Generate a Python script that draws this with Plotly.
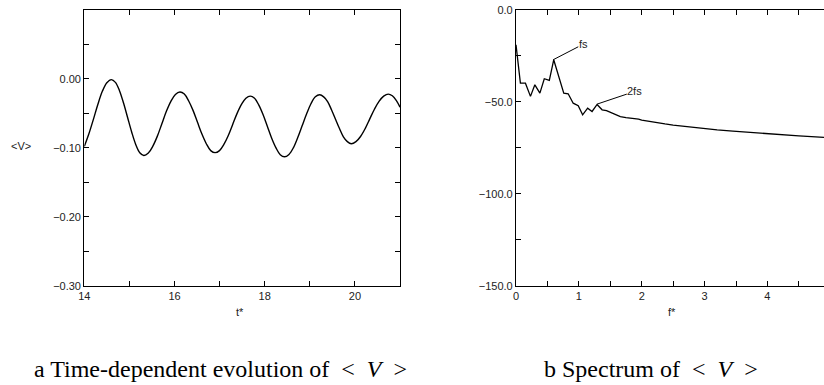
import plotly.graph_objects as go

# ---- Panel a: time-dependent evolution of <V> ----
t_vals = [14.00, 14.10, 14.20, 14.30, 14.40, 14.50, 14.60,
          14.69, 14.78, 14.87, 14.96, 15.05, 15.14, 15.23, 15.32,
          15.42, 15.52, 15.62, 15.72, 15.82, 15.92, 16.02, 16.12,
          16.218, 16.315, 16.413, 16.51, 16.608, 16.705, 16.803, 16.90,
          16.998, 17.095, 17.193, 17.29, 17.388, 17.485, 17.583, 17.68,
          17.775, 17.87, 17.965, 18.06, 18.155, 18.25, 18.345, 18.44,
          18.538, 18.635, 18.733, 18.83, 18.928, 19.025, 19.123, 19.22,
          19.308, 19.395, 19.483, 19.57, 19.658, 19.745, 19.833, 19.92,
          20.023, 20.125, 20.228, 20.33, 20.433, 20.535, 20.638, 20.74,
          20.83, 20.92, 21.00]
v_vals = [-0.098, -0.080, -0.059, -0.037, -0.018, -0.0055, -0.001,
          -0.005, -0.017, -0.035, -0.056, -0.077, -0.095, -0.107, -0.111,
          -0.1075, -0.0975, -0.083, -0.065, -0.047, -0.0325, -0.0225, -0.019,
          -0.022, -0.032, -0.046, -0.063, -0.080, -0.094, -0.104, -0.107,
          -0.104, -0.095, -0.082, -0.066, -0.050, -0.037, -0.028, -0.025,
          -0.028, -0.038, -0.052, -0.069, -0.086, -0.100, -0.110, -0.113,
          -0.1095, -0.100, -0.085, -0.068, -0.051, -0.036, -0.026, -0.023,
          -0.026, -0.033, -0.045, -0.0585, -0.072, -0.084, -0.091, -0.094,
          -0.091, -0.0835, -0.072, -0.058, -0.044, -0.0325, -0.025, -0.022,
          -0.0245, -0.0315, -0.041]

# ---- Panel b: spectrum of <V> ----
f_vals = [0.00, 0.07, 0.15, 0.23, 0.30, 0.38, 0.45, 0.53, 0.60, 0.69,
          0.76, 0.83, 0.91, 0.99, 1.06, 1.14, 1.21, 1.29, 1.37, 1.44,
          1.52, 1.59, 1.66, 1.75, 1.82, 1.89, 1.95, 2.00, 2.12, 2.24,
          2.37, 2.50, 2.70, 2.88, 3.05, 3.20, 3.45, 3.67, 3.85, 4.00,
          4.20, 4.50, 4.70, 4.90]
s_vals = [-18.9, -39.8, -39.8, -47.0, -40.7, -45.2, -37.4, -38.3, -27.1, -38.0,
          -45.2, -45.6, -50.7, -52.1, -57.0, -53.4, -55.2, -51.4, -54.3, -54.8,
          -56.1, -57.2, -58.0, -58.5, -58.8, -58.9, -59.4, -59.9, -60.7, -61.4,
          -62.0, -62.6, -63.4, -64.1, -64.7, -65.2, -65.9, -66.5, -67.0, -67.4,
          -67.9, -68.5, -68.9, -69.3]

ta_ticks = [14, 15, 16, 17, 18, 19, 20, 21]
ta_text = ["14", "", "16", "", "18", "", "20", ""]
va_ticks = [-0.30, -0.25, -0.20, -0.15, -0.10, -0.05, 0.00, 0.05, 0.10]
va_text = ["\u22120.30", "", "\u22120.20", "", "\u22120.10", "", "0.00", "", ""]
fb_ticks = [0, 0.5, 1, 1.5, 2, 2.5, 3, 3.5, 4, 4.5]
fb_text = ["0", "", "1", "", "2", "", "3", "", "4", ""]
sb_ticks = [-150, -125, -100, -75, -50, -25, 0]
sb_text = ["\u2212150.0", "", "\u2212100.0", "", "\u221250.0", "", "0.0"]

W, H = 824, 385
tick_font = dict(family="Liberation Sans, Arial, sans-serif", size=11, color="#222")

fig = go.Figure()
fig.add_trace(go.Scatter(x=t_vals, y=v_vals, mode="lines",
                         line=dict(color="black", width=1.4, shape="spline", smoothing=1.0),
                         xaxis="x", yaxis="y", showlegend=False))
fig.add_trace(go.Scatter(x=f_vals, y=s_vals, mode="lines",
                         line=dict(color="black", width=1.3),
                         xaxis="x2", yaxis="y2", showlegend=False))

ax_common = dict(showline=True, linecolor="black", linewidth=1.2, ticks="inside",
                 ticklen=5, tickcolor="black", tickwidth=1, showgrid=False,
                 zeroline=False, tickfont=tick_font, tickmode="array",
                 automargin=False)

ydom = [1 - 285.7 / H, 1 - 10 / H]
fig.update_layout(
    template="none",
    width=W, height=H, margin=dict(l=0, r=0, t=0, b=0, pad=0, autoexpand=False),
    paper_bgcolor="white", plot_bgcolor="white",
    xaxis=dict(domain=[84.3 / W, 400 / W], range=[14, 21], anchor="y",
               tickvals=ta_ticks, ticktext=ta_text, mirror="ticks", **ax_common),
    yaxis=dict(domain=ydom, range=[-0.30, 0.10], anchor="x",
               tickvals=va_ticks, ticktext=va_text, mirror="ticks", **ax_common),
    xaxis2=dict(domain=[516 / W, 1.0], range=[0, 4.9], anchor="y2",
                tickvals=fb_ticks, ticktext=fb_text, mirror="ticks", **ax_common),
    yaxis2=dict(domain=ydom, range=[-150, 0], anchor="x2",
                tickvals=sb_ticks, ticktext=sb_text, mirror=False, **ax_common),
)

lab_font = dict(family="Liberation Sans, Arial, sans-serif", size=11, color="#222")
cap_font = dict(family="Liberation Serif, Times New Roman, serif", size=24, color="black")

def px(x):
    return x / W

def py(y):
    return 1 - y / H

SP = "\u2002"  # wider (math-like) spacing around < V >
annots = [
    dict(text="&lt;V&gt;", x=px(21), y=py(146), font=lab_font),
    dict(text="t*", x=px(240), y=py(312), font=lab_font),
    dict(text="f*", x=px(672), y=py(312), font=lab_font),
    dict(text="a Time-dependent evolution of" + SP + "&lt;" + SP + "<i>V</i>" + SP + "&gt;",
         x=px(220), y=py(369), font=cap_font),
    dict(text="b Spectrum of" + SP + "&lt;" + SP + "<i>V</i>" + SP + "&gt;",
         x=px(651), y=py(369), font=cap_font),
]
for a in annots:
    fig.add_annotation(xref="paper", yref="paper", showarrow=False,
                       xanchor="center", yanchor="middle", **a)

# peak labels with leader lines
peak_labels = [("fs", 0.59, -27.1, 1.07, -18.6), ("2fs", 1.29, -51.2, 1.89, -44.3)]
for txt, x0, y0, xt, yt in peak_labels:
    fig.add_annotation(xref="x2", yref="y2", axref="x2", ayref="y2",
                       x=x0, y=y0, ax=xt, ay=yt, text=txt, showarrow=True,
                       arrowhead=0, arrowwidth=1, arrowcolor="black",
                       font=lab_font, borderpad=0, standoff=0)

fig.write_html("out.html")
